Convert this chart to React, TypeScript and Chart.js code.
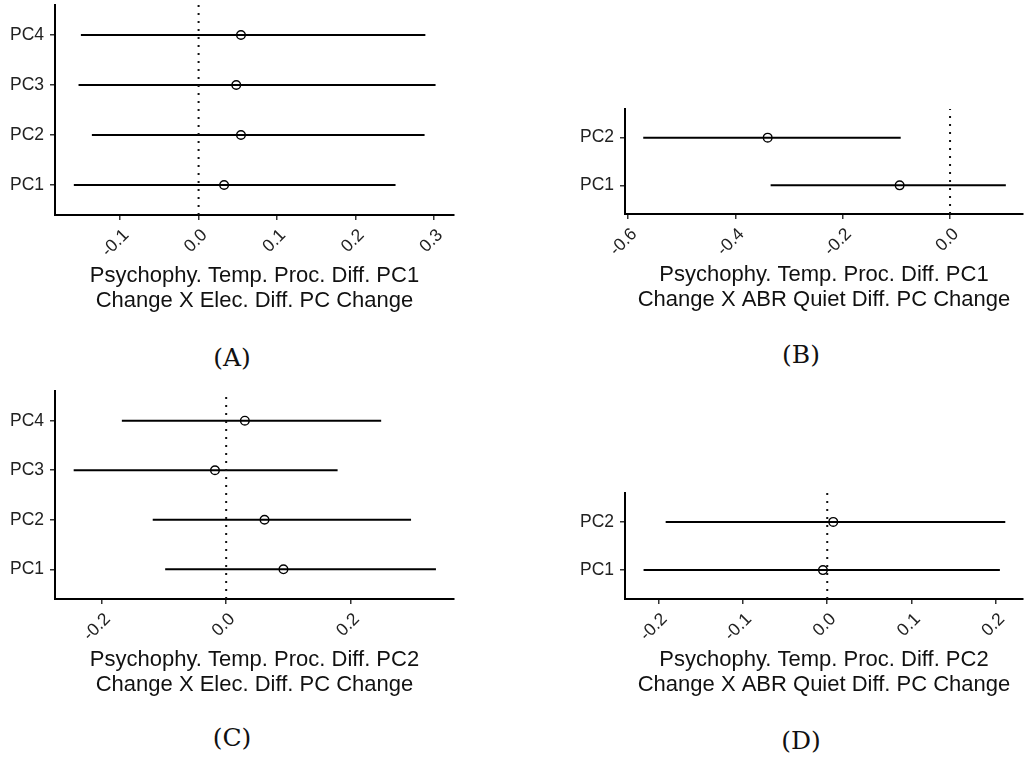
import React, { useEffect, useRef } from "react";
import { Chart, registerables } from "chart.js";

Chart.register(...registerables);

// ---------- Panel A ----------
const A_CATEGORIES = ["PC1", "PC2", "PC3", "PC4"];
const A_ESTIMATE = [0.0325, 0.054, 0.048, 0.054];
const A_LOWER = [-0.159, -0.136, -0.153, -0.15];
const A_UPPER = [0.251, 0.288, 0.302, 0.289];
const A_TICKS = [-0.1, 0.0, 0.1, 0.2, 0.3];
const A_RANGE = [-0.183, 0.3255];
const A_TITLE = ["Psychophy. Temp. Proc. Diff. PC1", "Change X Elec. Diff. PC Change"];

// ---------- Panel B ----------
const B_CATEGORIES = ["PC1", "PC2"];
const B_ESTIMATE = [-0.094, -0.34];
const B_LOWER = [-0.3345, -0.572];
const B_UPPER = [0.104, -0.092];
const B_TICKS = [-0.6, -0.4, -0.2, 0.0];
const B_RANGE = [-0.606, 0.136];
const B_TITLE = ["Psychophy. Temp. Proc. Diff. PC1", "Change X ABR Quiet Diff. PC Change"];

// ---------- Panel C ----------
const C_CATEGORIES = ["PC1", "PC2", "PC3", "PC4"];
const C_ESTIMATE = [0.092, 0.0616, -0.018, 0.03];
const C_LOWER = [-0.098, -0.118, -0.245, -0.1676];
const C_UPPER = [0.337, 0.297, 0.179, 0.249];
const C_TICKS = [-0.2, 0.0, 0.2];
const C_RANGE = [-0.275, 0.366];
const C_TITLE = ["Psychophy. Temp. Proc. Diff. PC2", "Change X Elec. Diff. PC Change"];

// ---------- Panel D ----------
const D_CATEGORIES = ["PC1", "PC2"];
const D_ESTIMATE = [-0.0051, 0.0071];
const D_LOWER = [-0.2177, -0.1915];
const D_UPPER = [0.2046, 0.211];
const D_TICKS = [-0.2, -0.1, 0.0, 0.1, 0.2];
const D_RANGE = [-0.2397, 0.232];
const D_TITLE = ["Psychophy. Temp. Proc. Diff. PC2", "Change X ABR Quiet Diff. PC Change"];

const SANS = "'Liberation Sans', Arial, Helvetica, sans-serif";
const LINE_W = 2;

type PanelProps = {
  categories: string[];
  estimate: number[];
  lower: number[];
  upper: number[];
  ticks: number[];
  range: number[];
  title: string[];
  left: number;
  top: number;
  width: number;
  height: number;
  yAxisWidth: number;
  padTop: number;
  padRight: number;
  xAxisHeight: number;
};

function zeroScalePadding(scale: any) {
  scale.paddingTop = 0;
  scale.paddingBottom = 0;
  scale.paddingLeft = 0;
  scale.paddingRight = 0;
}

function ForestPanel(p: PanelProps) {
  const ref = useRef<HTMLCanvasElement | null>(null);
  useEffect(() => {
    if (!ref.current) return;
    const n = p.categories.length;
    const yMin = 0.4;
    const yMax = n + 0.6;
    const datasets: any[] = [];
    datasets.push({
      data: [
        { x: 0, y: yMin },
        { x: 0, y: yMax },
      ],
      showLine: true,
      borderColor: "#111",
      borderWidth: LINE_W,
      borderDash: [LINE_W, LINE_W * 3],
      pointRadius: 0,
    });
    p.categories.forEach((_, i) => {
      datasets.push({
        data: [
          { x: p.lower[i], y: i + 1 },
          { x: p.upper[i], y: i + 1 },
        ],
        showLine: true,
        borderColor: "#000",
        borderWidth: LINE_W,
        pointRadius: 0,
      });
    });
    datasets.push({
      data: p.estimate.map((v, i) => ({ x: v, y: i + 1 })),
      showLine: false,
      pointRadius: 4.3,
      pointBorderWidth: 1.4,
      borderColor: "#000",
      backgroundColor: "rgba(0,0,0,0)",
      pointBackgroundColor: "rgba(0,0,0,0)",
      pointBorderColor: "#000",
    });

    const axisGrid = {
      display: true,
      drawOnChartArea: false,
      drawTicks: true,
      tickLength: 5,
      color: "#333",
      lineWidth: 1.5,
    };
    const axisBorder = { display: true, color: "#000", width: LINE_W };

    const chart = new Chart(ref.current, {
      type: "scatter",
      data: { datasets },
      options: {
        responsive: false,
        animation: false,
        events: [],
        layout: {
          autoPadding: false,
          padding: { left: 0, top: p.padTop, right: p.padRight, bottom: 0 },
        },
        plugins: {
          legend: { display: false },
          tooltip: { enabled: false },
        },
        scales: {
          x: {
            type: "linear",
            min: p.range[0],
            max: p.range[1],
            border: axisBorder,
            grid: axisGrid,
            afterBuildTicks: (scale: any) => {
              scale.ticks = p.ticks.map((v) => ({ value: v }));
            },
            afterFit: (scale: any) => {
              scale.height = p.xAxisHeight;
              zeroScalePadding(scale);
            },
            ticks: {
              autoSkip: false,
              maxRotation: 45,
              minRotation: 45,
              padding: 5,
              labelOffset: 6,
              color: "#222",
              font: { family: SANS, size: 17.5 },
              callback: (v: any) => Number(v).toFixed(1),
            },
            title: {
              display: true,
              text: p.title,
              color: "#111",
              font: { family: SANS, size: 22, lineHeight: 1.12 },
              padding: { top: 0, bottom: 17 },
            },
          },
          y: {
            type: "linear",
            min: yMin,
            max: yMax,
            border: axisBorder,
            grid: axisGrid,
            afterBuildTicks: (scale: any) => {
              scale.ticks = p.categories.map((_, i) => ({ value: i + 1 }));
            },
            afterFit: (scale: any) => {
              scale.width = p.yAxisWidth;
              zeroScalePadding(scale);
            },
            ticks: {
              autoSkip: false,
              padding: 6,
              color: "#222",
              font: { family: SANS, size: 17.5 },
              callback: (v: any) => p.categories[Math.round(Number(v)) - 1] ?? "",
            },
          },
        },
      } as any,
    });
    return () => chart.destroy();
  }, []);
  return (
    <div
      style={{
        position: "absolute",
        left: p.left,
        top: p.top,
        width: p.width,
        height: p.height,
      }}
    >
      <canvas ref={ref} width={p.width} height={p.height} style={{ display: "block" }} />
    </div>
  );
}

function PanelLabel({ text, cx, cy }: { text: string; cx: number; cy: number }) {
  return (
    <div
      style={{
        position: "absolute",
        left: cx - 60,
        top: cy - 16,
        width: 120,
        height: 32,
        lineHeight: "32px",
        textAlign: "center",
        fontFamily: "'DejaVu Serif', serif",
        fontSize: 25,
        color: "#111",
      }}
    >
      {text}
    </div>
  );
}

export default function App() {
  return (
    <div
      style={{
        position: "absolute",
        left: 0,
        top: 0,
        width: 1024,
        height: 757,
        background: "#fff",
        overflow: "hidden",
      }}
    >
      <ForestPanel
        categories={A_CATEGORIES}
        estimate={A_ESTIMATE}
        lower={A_LOWER}
        upper={A_UPPER}
        ticks={A_TICKS}
        range={A_RANGE}
        title={A_TITLE}
        left={0}
        top={0}
        width={512}
        height={330}
        yAxisWidth={55}
        padTop={5}
        padRight={58}
        xAxisHeight={115}
      />
      <ForestPanel
        categories={B_CATEGORIES}
        estimate={B_ESTIMATE}
        lower={B_LOWER}
        upper={B_UPPER}
        ticks={B_TICKS}
        range={B_RANGE}
        title={B_TITLE}
        left={512}
        top={0}
        width={512}
        height={329}
        yAxisWidth={113}
        padTop={109}
        padRight={1}
        xAxisHeight={115}
      />
      <ForestPanel
        categories={C_CATEGORIES}
        estimate={C_ESTIMATE}
        lower={C_LOWER}
        upper={C_UPPER}
        ticks={C_TICKS}
        range={C_RANGE}
        title={C_TITLE}
        left={0}
        top={384}
        width={512}
        height={330}
        yAxisWidth={55}
        padTop={7}
        padRight={58}
        xAxisHeight={115}
      />
      <ForestPanel
        categories={D_CATEGORIES}
        estimate={D_ESTIMATE}
        lower={D_LOWER}
        upper={D_UPPER}
        ticks={D_TICKS}
        range={D_RANGE}
        title={D_TITLE}
        left={512}
        top={384}
        width={512}
        height={330}
        yAxisWidth={113}
        padTop={109}
        padRight={1}
        xAxisHeight={115}
      />
      <PanelLabel text="(A)" cx={232} cy={358} />
      <PanelLabel text="(B)" cx={801} cy={355} />
      <PanelLabel text="(C)" cx={232} cy={738} />
      <PanelLabel text="(D)" cx={801} cy={741} />
    </div>
  );
}
